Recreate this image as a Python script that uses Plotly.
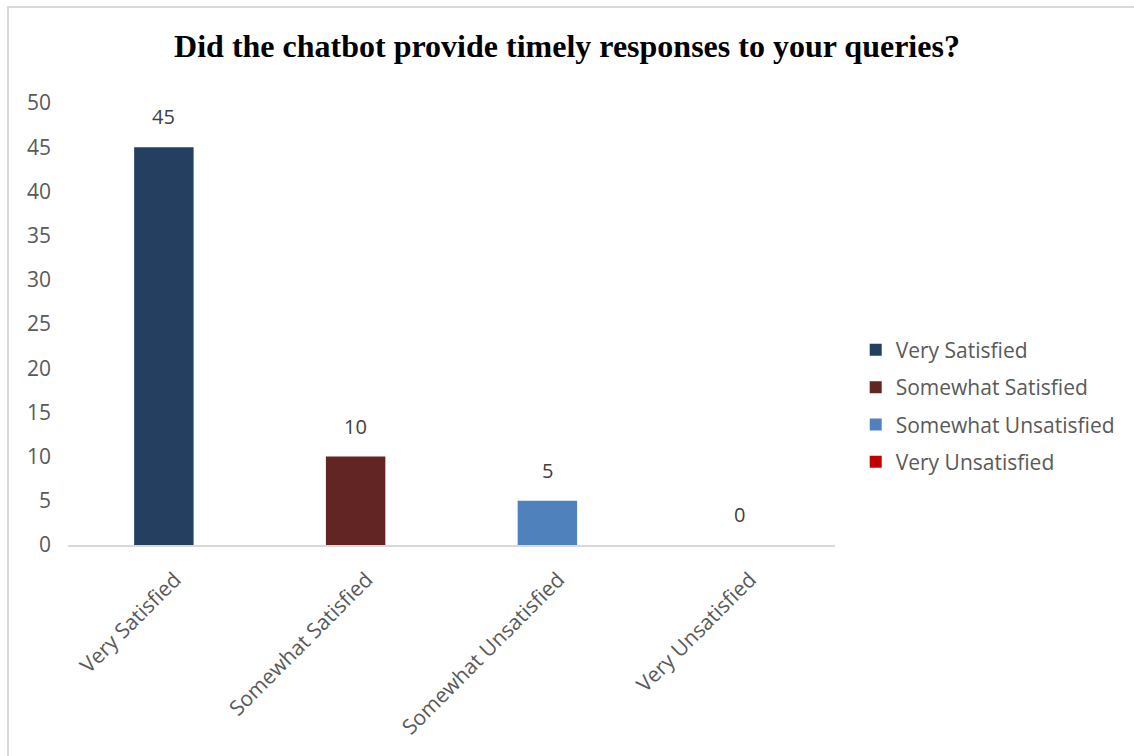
import plotly.graph_objects as go

# Survey responses
categories = ["Very Satisfied", "Somewhat Satisfied", "Somewhat Unsatisfied", "Very Unsatisfied"]
counts = [45, 10, 5, 0]
colors = ["#243F60", "#632523", "#4F81BD", "#C00000"]
y_ticks = [0, 5, 10, 15, 20, 25, 30, 35, 40, 45, 50]

FONT = "Open Sans, Noto Sans, sans-serif"

fig = go.Figure()
for cat, val, col in zip(categories, counts, colors):
    fig.add_trace(go.Bar(
        x=[cat], y=[val], name=cat, legendgroup=cat,
        marker=dict(color=col, line=dict(width=0)),
        width=0.31,
        hoverinfo="x+y",
    ))

# value labels above each bar
for cat, val in zip(categories, counts):
    fig.add_annotation(
        x=cat, y=val, text=str(val), showarrow=False,
        yanchor="bottom", yshift=15,
        font=dict(family=FONT, size=20, color="#404040"),
    )

# outer frame of the chart area
fig.add_shape(
    type="rect", xref="paper", yref="paper",
    x0=-0.0782, x1=1.40, y0=-0.50, y1=1.217,
    line=dict(color="#D9D9D9", width=2), fillcolor="rgba(0,0,0,0)", layer="below",
)

fig.update_layout(
    width=1134, height=756,
    margin=dict(l=68, r=299, t=103, b=211),
    paper_bgcolor="white", plot_bgcolor="white",
    barmode="overlay",
    title=dict(
        text="<b>Did the chatbot provide timely responses to your queries?</b>",
        x=0.5, xref="container", y=0.940, yanchor="middle",
        font=dict(family="Liberation Serif, Times New Roman, serif", size=32, color="black"),
    ),
    showlegend=True,
    legend=dict(
        x=1.027, xanchor="left", xref="paper",
        y=0.314, yanchor="middle",
        font=dict(family=FONT, size=21, color="#595959"),
        itemwidth=30, tracegroupgap=7,
        bgcolor="rgba(0,0,0,0)",
    ),
    xaxis=dict(
        type="category", categoryorder="array", categoryarray=categories,
        showline=True, linecolor="#D9D9D9", linewidth=2,
        ticks="", tickangle=-45, ticklabelstandoff=12, ticklabelshift=11,
        tickfont=dict(family=FONT, size=21, color="#595959"),
        showgrid=False, zeroline=False,
    ),
    yaxis=dict(
        range=[0, 50], tickvals=y_ticks,
        showgrid=False, zeroline=False, showline=False,
        ticks="", ticklabelstandoff=16,
        tickfont=dict(family=FONT, size=21, color="#595959"),
    ),
)

fig.write_html("out.html")
